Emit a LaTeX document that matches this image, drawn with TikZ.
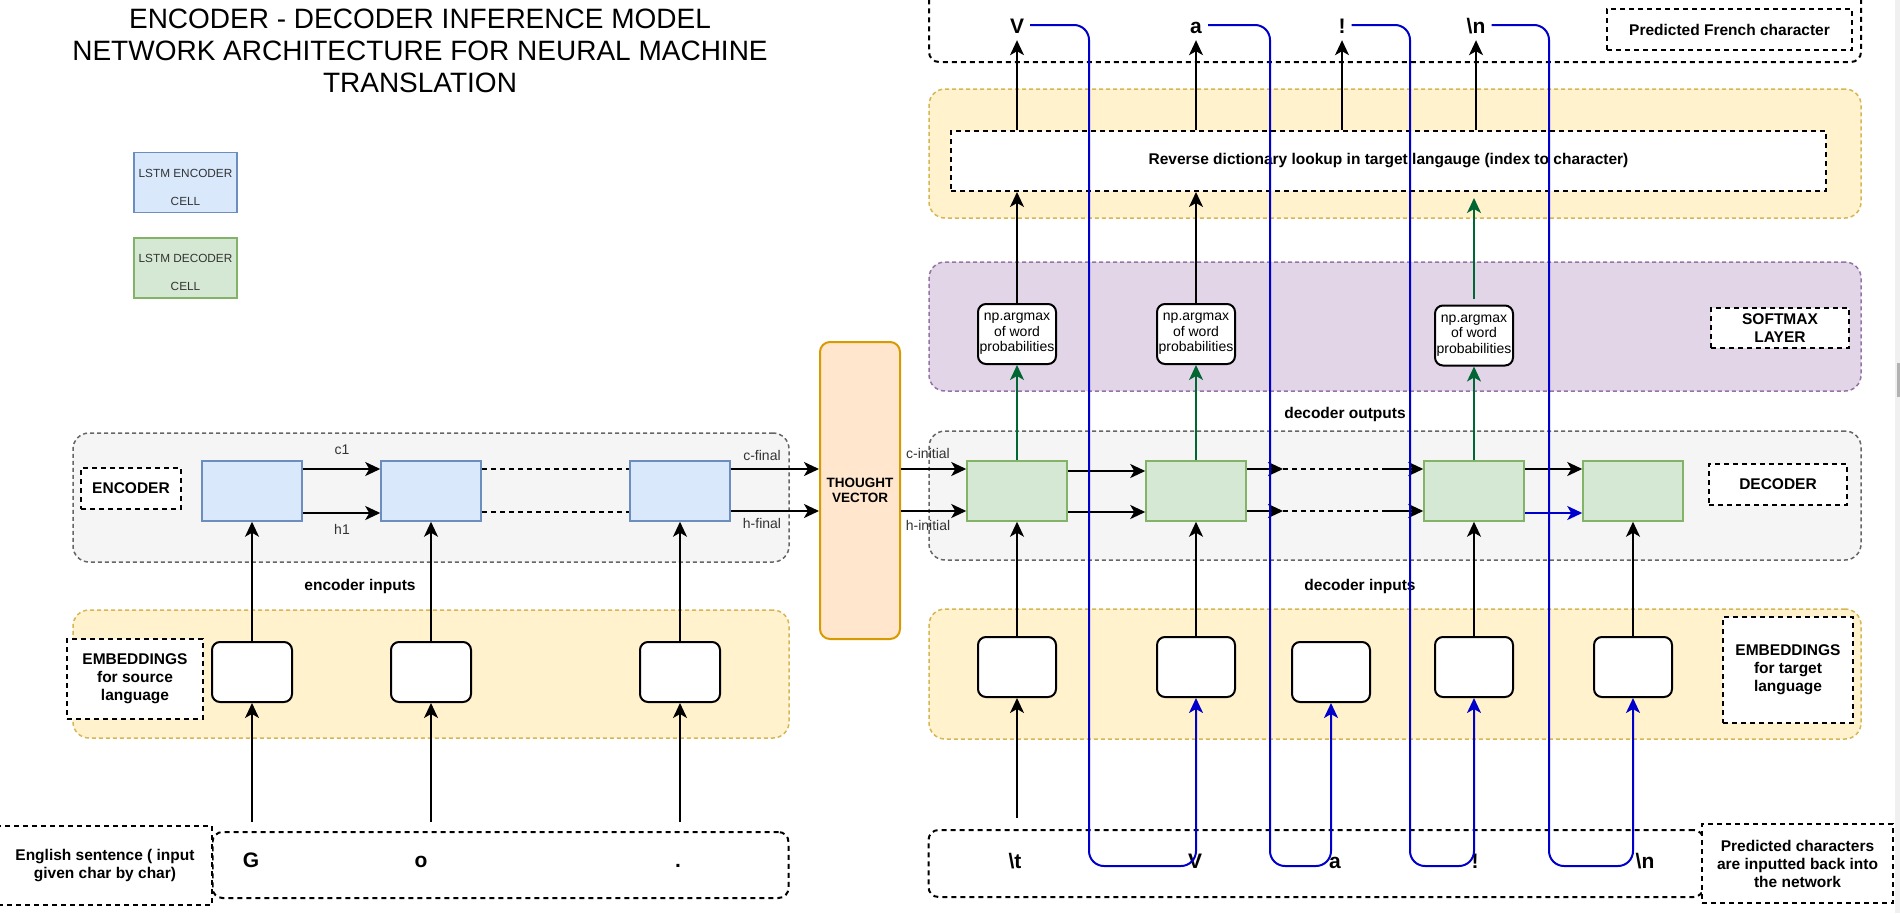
\documentclass[tikz,border=0pt]{standalone}
\usepackage{fontspec}
\setmainfont{Liberation Sans}
\usetikzlibrary{arrows.meta,calc}
\definecolor{encfill}{HTML}{DAE8FC}
\definecolor{encdraw}{HTML}{6C8EBF}
\definecolor{decfill}{HTML}{D5E8D4}
\definecolor{decdraw}{HTML}{82B366}
\definecolor{embfill}{HTML}{FFF2CC}
\definecolor{embdraw}{HTML}{D6B656}
\definecolor{smfill}{HTML}{E1D5E7}
\definecolor{smdraw}{HTML}{9673A6}
\definecolor{grfill}{HTML}{F5F5F5}
\definecolor{grdraw}{HTML}{666666}
\definecolor{tvfill}{HTML}{FFE6CC}
\definecolor{tvdraw}{HTML}{D79B00}
\definecolor{outgreen}{HTML}{006633}
\definecolor{fbblue}{HTML}{0000CC}
\begin{document}
\begin{tikzpicture}[x=1pt,y=-1pt,
	grp/.style={dash pattern=on 4pt off 3pt,line width=1.5pt,rounded corners=16pt,inner sep=0pt},
	strip/.style={draw=black,fill=white,dash pattern=on 5pt off 4pt,line width=2pt,rounded corners=10pt,inner sep=0pt},
	lbl/.style={draw=black,fill=white,dash pattern=on 5pt off 4pt,line width=2pt,inner sep=0pt,align=center,
		font=\bfseries\fontsize{15.5}{18}\selectfont},
	enc/.style={draw=encdraw,fill=encfill,line width=1.5pt,minimum width=100pt,minimum height=60pt},
	dec/.style={draw=decdraw,fill=decfill,line width=1.5pt,minimum width=100pt,minimum height=60pt},
	emb/.style={draw=black,fill=white,line width=2pt,rounded corners=8pt,minimum width=78pt,minimum height=60pt},
	amax/.style={emb,align=center,inner sep=0pt,font=\fontsize{14}{15.5}\selectfont},
	leg/.style={line width=1.5pt,minimum width=103pt,minimum height=60pt},
	legtxt/.style={align=center,text=black!80,font=\fontsize{11.8}{28}\selectfont,yshift=-4.5pt},
	chr/.style={font=\bfseries\fontsize{21}{24}\selectfont,text height=16pt,text depth=0pt,minimum height=30pt,
		inner ysep=0pt,inner xsep=6pt},
	lbltxt/.style={text=black!80,font=\fontsize{14}{16}\selectfont,inner sep=0pt},
	word/.style={font=\bfseries\fontsize{15.5}{18}\selectfont,inner sep=0pt},
	arw/.style={-{Stealth[length=15pt,width=14pt,inset=4pt]}},
	harr/.style={arw,line width=2pt},
	varr/.style={arw,line width=1.5pt},
	dl/.style={line width=2pt,dash pattern=on 5pt off 4pt},
	fb/.style={varr,draw=fbblue,line width=2pt,rounded corners=15pt}]
	\useasboundingbox (0,0) rectangle (1900,913);
	% layer groups
	\node[grp,fill=grfill,draw=grdraw,minimum width=716pt,minimum height=129pt] (encgrp) at (431,497.5) {};
	\node[grp,fill=embfill,draw=embdraw,minimum width=716pt,minimum height=128pt] (srcgrp) at (431,674) {};
	\node[grp,fill=grfill,draw=grdraw,minimum width=932pt,minimum height=129pt] (decgrp) at (1395,495.5) {};
	\node[grp,fill=smfill,draw=smdraw,minimum width=932pt,minimum height=129pt] (smgrp) at (1395,326.5) {};
	\node[grp,fill=embfill,draw=embdraw,minimum width=932pt,minimum height=129pt] (lookgrp) at (1395,153.5) {};
	\node[grp,fill=embfill,draw=embdraw,minimum width=932pt,minimum height=130pt] (tgtgrp) at (1395,674) {};
	\node[strip,minimum width=932pt,minimum height=90pt] (outrow) at (1395,17) {};
	\node[strip,minimum width=775pt,minimum height=67pt] (decrow) at (1316,863.5) {};
	\node[strip,minimum width=576pt,minimum height=66pt] (encrow) at (500.5,865) {};
	% title and legend
	\node[align=center,font=\fontsize{28}{32}\selectfont] (title) at (420,51)
		{ENCODER - DECODER INFERENCE MODEL\\NETWORK ARCHITECTURE FOR NEURAL MACHINE\\TRANSLATION};
	\node[leg,draw=encdraw,fill=encfill,label={[legtxt]center:LSTM ENCODER\\CELL}] (legenc) at (185.5,182.5) {};
	\node[leg,draw=decdraw,fill=decfill,label={[legtxt]center:LSTM DECODER\\CELL}] (legdec) at (185.5,268) {};
	% side labels
	\node[lbl,minimum width=100pt,minimum height=41pt] (enclbl) at (131,488.5) {ENCODER};
	\node[lbl,minimum width=136pt,minimum height=80pt] (srclbl) at (135,679) {EMBEDDINGS\\for source\\language};
	\node[lbl,minimum width=138pt,minimum height=41pt] (declbl) at (1778,484.5) {DECODER};
	\node[lbl,minimum width=138pt,minimum height=40pt] (smlbl) at (1780,328) {SOFTMAX\\LAYER};
	\node[lbl,minimum width=130pt,minimum height=106pt] (tgtlbl) at (1788,670) {EMBEDDINGS\\for target\\language};
	\node[lbl,minimum width=245pt,minimum height=41pt] (frlbl) at (1729.5,29.5) {Predicted French character};
	\node[lbl,minimum width=214pt,minimum height=79pt] (enlbl) at (105,865.5) {English sentence ( input\\given char by char)};
	\node[lbl,minimum width=191pt,minimum height=79pt] (fblbl) at (1797.5,863.5) {Predicted characters\\are inputted back into\\the network};
	\node[lbl,minimum width=875pt,minimum height=60pt] (lookup) at (1388.5,161)
		{Reverse dictionary lookup in target langauge (index to character)};
	% cells
	\node[enc] (e1) at (252,491) {};
	\node[enc] (e2) at (431,491) {};
	\node[enc] (e3) at (680,491) {};
	\node[dec] (d1) at (1017,491) {};
	\node[dec] (d2) at (1196,491) {};
	\node[dec] (d3) at (1474,491) {};
	\node[dec] (d4) at (1633,491) {};
	\node[draw=tvdraw,fill=tvfill,line width=2pt,rounded corners=10pt,minimum width=80pt,minimum height=297pt,
		align=center,font=\bfseries\fontsize{13.5}{15}\selectfont] (tv) at (860,490.5) {THOUGHT\\VECTOR};
	% embeddings
	\node[emb,minimum width=80pt] (se1) at (252,672) {};
	\node[emb,minimum width=80pt] (se2) at (431,672) {};
	\node[emb,minimum width=80pt] (se3) at (680,672) {};
	\node[emb] (te1) at (1017,667) {};
	\node[emb] (te2) at (1196,667) {};
	\node[emb] (te3) at (1331,672) {};
	\node[emb] (te4) at (1474,667) {};
	\node[emb] (te5) at (1633,667) {};
	% softmax
	\node[amax] (am1) at (1017,334) {np.argmax\\of word\\probabilities};
	\node[amax] (am2) at (1196,334) {np.argmax\\of word\\probabilities};
	\node[amax] (am3) at (1474,335.5) {np.argmax\\of word\\probabilities};
	% characters
	\node[chr] (cV) at (1017,25) {V};
	\node[chr] (cA) at (1196,25) {a};
	\node[chr] (cX) at (1342,25) {!};
	\node[chr] (cN) at (1476,25) {\textbackslash n};
	\node[chr] (bT) at (1015,860) {\textbackslash t};
	\node[chr] (bV) at (1195,860) {V};
	\node[chr] (bA) at (1335,860) {a};
	\node[chr] (bX) at (1475,860) {!};
	\node[chr] (bN) at (1645,860) {\textbackslash n};
	\node[chr] (gG) at (251,859) {G};
	\node[chr] (gO) at (421,859) {o};
	\node[chr] (gDot) at (678,859) {.};
	% plain labels
	\node[lbltxt] (c1) at (342,450) {c1};
	\node[lbltxt] (h1) at (342,529) {h1};
	\node[lbltxt] (cfin) at (762,455) {c-final};
	\node[lbltxt] (hfin) at (762,523) {h-final};
	\node[lbltxt] (cini) at (928,453) {c-initial};
	\node[lbltxt] (hini) at (928,525) {h-initial};
	\node[word] (encin) at (360,586) {encoder inputs};
	\node[word] (decout) at (1345,414) {decoder outputs};
	\node[word] (decin) at (1360,586) {decoder inputs};
	\coordinate (i1) at (252,822);
	\coordinate (i2) at (431,822);
	\coordinate (i3) at (680,822);
	\coordinate (i0) at (1017,818);
	\coordinate (gap1) at (1283,491);
	\coordinate (gap2) at (1385,491);
	\coordinate (fV) at (1089,866);
	\coordinate (fA) at (1270,866);
	\coordinate (fX) at (1410,866);
	\coordinate (fN) at (1549,866);
	% encoder states
	\draw[harr] ($(e1.east)+(0,-22)$) -- ($(e2.west)+(0,-22)$);
	\draw[harr] ($(e1.east)+(0,22)$) -- ($(e2.west)+(0,22)$);
	\draw[dl] ($(e2.east)+(0,-22)$) -- ($(e3.west)+(0,-22)$);
	\draw[dl] ($(e2.east)+(0,21)$) -- ($(e3.west)+(0,21)$);
	\draw[harr] ($(e3.east)+(0,-22)$) -- ($(e3.east -| tv.west)+(0,-22)$);
	\draw[harr] ($(e3.east)+(0,20)$) -- ($(e3.east -| tv.west)+(0,20)$);
	% decoder states
	\draw[harr] ($(tv.east |- d1.west)+(0,-22)$) -- ($(d1.west)+(0,-22)$);
	\draw[harr] ($(tv.east |- d1.west)+(0,20)$) -- ($(d1.west)+(0,20)$);
	\draw[harr] ($(d1.east)+(0,-20)$) -- ($(d2.west)+(0,-20)$);
	\draw[harr] ($(d1.east)+(0,21)$) -- ($(d2.west)+(0,21)$);
	\draw[harr] ($(d2.east)+(0,-22)$) -- ($(gap1)+(0,-22)$);
	\draw[dl] ($(gap1)+(0,-22)$) -- ($(gap2)+(0,-22)$);
	\draw[harr] ($(gap2)+(0,-22)$) -- ($(d3.west)+(0,-22)$);
	\draw[harr] ($(d2.east)+(0,20)$) -- ($(gap1)+(0,20)$);
	\draw[dl] ($(gap1)+(0,20)$) -- ($(gap2)+(0,20)$);
	\draw[harr] ($(gap2)+(0,20)$) -- ($(d3.west)+(0,20)$);
	\draw[harr] ($(d3.east)+(0,-22)$) -- ($(d4.west)+(0,-22)$);
	\draw[harr,fbblue] ($(d3.east)+(0,22)$) -- ($(d4.west)+(0,22)$);
	% inputs and outputs
	\foreach \a/\b in {se1/e1,se2/e2,se3/e3,te1/d1,te2/d2,te4/d3,te5/d4}
		\draw[varr] (\a) -- (\b);
	\foreach \a/\b in {i1/se1,i2/se2,i3/se3,i0/te1}
		\draw[varr] (\a) -- (\b.south);
	\foreach \a/\b in {d1/am1,d2/am2,d3/am3}
		\draw[varr,outgreen] (\a) -- (\b);
	\draw[varr] (am1) -- (am1 |- lookup.south);
	\draw[varr] (am2) -- (am2 |- lookup.south);
	\draw[varr,outgreen] ($(am3.north)+(0,-6)$) -- ($(am3 |- lookup.south)+(0,6)$);
	\foreach \c in {cV,cA,cX,cN}
		\draw[varr] (\c |- lookup.north) -- (\c);
	% fed back characters
	\draw[fb] (cV.east) -| (fV) -| (te2.south);
	\draw[fb] (cA.east) -| (fA) -| (te3.south);
	\draw[fb] (cX.east) -| (fX) -| (te4.south);
	\draw[fb] (cN.east) -| (fN) -| (te5.south);
	% scroll bar
	\fill[black!6] (1895,0) rectangle (1900,913);
	\fill[black!30] (1897,363) rectangle (1900,397);
\end{tikzpicture}
\end{document}
